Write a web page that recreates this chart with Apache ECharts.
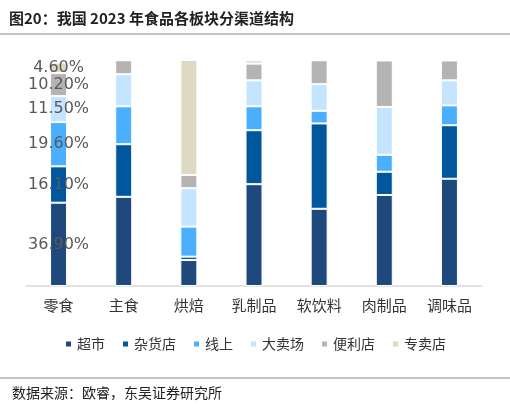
<!DOCTYPE html><html><head><meta charset="utf-8"><script src="https://cdn.jsdelivr.net/npm/echarts@6/dist/echarts.min.js"></script>
<style>body{margin:0}#c{width:510px;height:413px}</style></head><body><div id="c"></div><script>
var categories=['零食','主食','烘焙','乳制品','软饮料','肉制品','调味品'];
var seriesNames=['超市','杂货店','线上','大卖场','便利店','专卖店'];
var s超市=[36.9,39.5,11.5,45.1,34.2,40.3,47.5];
var s杂货店=[16.1,23.3,1.5,23.9,37.8,10.3,23.7];
var s线上=[19.6,16.8,13.3,10.6,5.6,7.5,8.8];
var s大卖场=[11.5,14.2,17.0,11.5,11.8,21.2,11.1];
var s便利店=[10.2,6.2,5.9,7.4,10.6,20.6,8.8];
var s专卖店=[4.6,0,50.9,1.5,0,0,0];
var colors=['#1F497D','#00579E','#4BAFFF','#C5E4FF','#B4B4B4','#DDD9C3'];
var data=[s超市,s杂货店,s线上,s大卖场,s便利店,s专卖店];
var series=seriesNames.map(function(n,i){return {name:n,type:'bar',stack:'a',barWidth:17,
 itemStyle:{color:colors[i],borderColor:'#fff',borderWidth:1},
 label:{show:true,position:'inside',fontSize:16,color:'#595959',fontFamily:'DejaVu Sans',
  formatter:function(p){return p.dataIndex===0?p.value.toFixed(2)+'%':'';}},
 data:data[i]};});
var ch=echarts.init(document.getElementById('c'));
ch.setOption({animation:false,
 title:{text:'图20：我国 2023 年食品各板块分渠道结构',left:4,top:6,textStyle:{fontSize:15,fontWeight:'bold',color:'#222',fontFamily:'Noto Sans CJK SC'}},
 grid:{left:26,right:28,top:60,bottom:127},
 xAxis:{type:'category',data:categories,axisTick:{show:false},axisLine:{lineStyle:{color:'#D9D9D9',width:1.5}},
  axisLabel:{fontSize:15,color:'#333',margin:12,fontFamily:'Noto Sans CJK SC'}},
 yAxis:{type:'value',max:'dataMax',show:false,splitLine:{show:false}},
 legend:{top:332,left:'center',itemWidth:7,itemHeight:7,itemGap:16,icon:'rect',textStyle:{fontSize:14,color:'#333',fontFamily:'Noto Sans CJK SC'}},
 graphic:[{type:'line',shape:{x1:0,y1:34,x2:510,y2:34},style:{stroke:'#888',lineWidth:1}},
  {type:'line',shape:{x1:0,y1:378,x2:510,y2:378},style:{stroke:'#888',lineWidth:1}},
  {type:'text',left:12,top:386,style:{text:'数据来源：欧睿，东吴证券研究所',fontSize:14,fill:'#222',fontFamily:'Noto Sans CJK SC'}}],
 series:series});
</script></body></html>
